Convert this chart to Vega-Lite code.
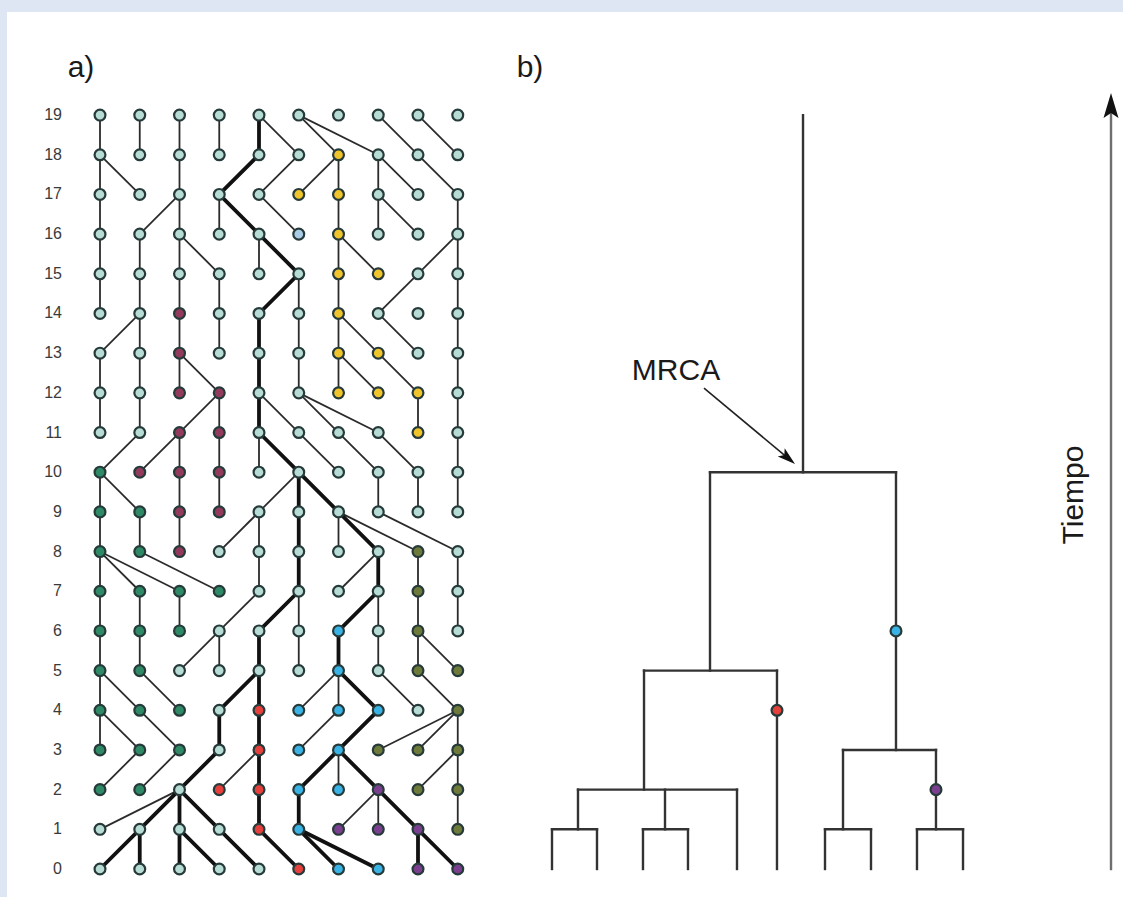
{
  "$schema": "https://vega.github.io/schema/vega-lite/v6.json",
  "width": 1116,
  "height": 885,
  "autosize": {"type": "none"},
  "padding": {"left": 7, "top": 12, "right": 0, "bottom": 0},
  "background": "#dfe6f3",
  "config": {"view": {"stroke": null, "fill": "white"}},
  "datasets": {
    "nodes": [
      {"g":19,"c":0,"k":"L","a":0},{"g":19,"c":1,"k":"L","a":0},{"g":19,"c":2,"k":"L","a":0},{"g":19,"c":3,"k":"L","a":0},{"g":19,"c":4,"k":"L","a":0},
      {"g":19,"c":5,"k":"L","a":0},{"g":19,"c":6,"k":"L","a":0},{"g":19,"c":7,"k":"L","a":0},{"g":19,"c":8,"k":"L","a":0},{"g":19,"c":9,"k":"L","a":0},

      {"g":18,"c":0,"k":"L","pg":19,"pc":0,"a":0},{"g":18,"c":1,"k":"L","pg":19,"pc":1,"a":0},{"g":18,"c":2,"k":"L","pg":19,"pc":2,"a":0},
      {"g":18,"c":3,"k":"L","pg":19,"pc":3,"a":0},{"g":18,"c":4,"k":"L","pg":19,"pc":4,"a":1},{"g":18,"c":5,"k":"L","pg":19,"pc":4,"a":0},
      {"g":18,"c":6,"k":"Y","pg":19,"pc":5,"a":0},{"g":18,"c":7,"k":"L","pg":19,"pc":5,"a":0},{"g":18,"c":8,"k":"L","pg":19,"pc":7,"a":0},
      {"g":18,"c":9,"k":"L","pg":19,"pc":8,"a":0},

      {"g":17,"c":0,"k":"L","pg":18,"pc":0,"a":0},{"g":17,"c":1,"k":"L","pg":18,"pc":0,"a":0},{"g":17,"c":2,"k":"L","pg":18,"pc":2,"a":0},
      {"g":17,"c":3,"k":"L","pg":18,"pc":4,"a":1},{"g":17,"c":4,"k":"L","pg":18,"pc":5,"a":0},{"g":17,"c":5,"k":"Y","pg":18,"pc":6,"a":0},
      {"g":17,"c":6,"k":"Y","pg":18,"pc":6,"a":0},{"g":17,"c":7,"k":"L","pg":18,"pc":7,"a":0},{"g":17,"c":8,"k":"L","pg":18,"pc":7,"a":0},
      {"g":17,"c":9,"k":"L","pg":18,"pc":8,"a":0},

      {"g":16,"c":0,"k":"L","pg":17,"pc":0,"a":0},{"g":16,"c":1,"k":"L","pg":17,"pc":2,"a":0},{"g":16,"c":2,"k":"L","pg":17,"pc":2,"a":0},
      {"g":16,"c":3,"k":"L","pg":17,"pc":3,"a":0},{"g":16,"c":4,"k":"L","pg":17,"pc":3,"a":1},{"g":16,"c":5,"k":"S","pg":17,"pc":4,"a":0},
      {"g":16,"c":6,"k":"Y","pg":17,"pc":6,"a":0},{"g":16,"c":7,"k":"L","pg":17,"pc":7,"a":0},{"g":16,"c":8,"k":"L","pg":17,"pc":7,"a":0},
      {"g":16,"c":9,"k":"L","pg":17,"pc":9,"a":0},

      {"g":15,"c":0,"k":"L","pg":16,"pc":0,"a":0},{"g":15,"c":1,"k":"L","pg":16,"pc":1,"a":0},{"g":15,"c":2,"k":"L","pg":16,"pc":2,"a":0},
      {"g":15,"c":3,"k":"L","pg":16,"pc":2,"a":0},{"g":15,"c":4,"k":"L","pg":16,"pc":4,"a":0},{"g":15,"c":5,"k":"L","pg":16,"pc":4,"a":1},
      {"g":15,"c":6,"k":"Y","pg":16,"pc":6,"a":0},{"g":15,"c":7,"k":"Y","pg":16,"pc":6,"a":0},{"g":15,"c":8,"k":"L","pg":16,"pc":9,"a":0},
      {"g":15,"c":9,"k":"L","pg":16,"pc":9,"a":0},

      {"g":14,"c":0,"k":"L","pg":15,"pc":0,"a":0},{"g":14,"c":1,"k":"L","pg":15,"pc":1,"a":0},{"g":14,"c":2,"k":"M","pg":15,"pc":2,"a":0},
      {"g":14,"c":3,"k":"L","pg":15,"pc":3,"a":0},{"g":14,"c":4,"k":"L","pg":15,"pc":5,"a":1},{"g":14,"c":5,"k":"L","pg":15,"pc":5,"a":0},
      {"g":14,"c":6,"k":"Y","pg":15,"pc":6,"a":0},{"g":14,"c":7,"k":"L","pg":15,"pc":8,"a":0},{"g":14,"c":8,"k":"L","a":0},
      {"g":14,"c":9,"k":"L","pg":15,"pc":9,"a":0},

      {"g":13,"c":0,"k":"L","pg":14,"pc":1,"a":0},{"g":13,"c":1,"k":"L","pg":14,"pc":1,"a":0},{"g":13,"c":2,"k":"M","pg":14,"pc":2,"a":0},
      {"g":13,"c":3,"k":"L","pg":14,"pc":3,"a":0},{"g":13,"c":4,"k":"L","pg":14,"pc":4,"a":1},{"g":13,"c":5,"k":"L","pg":14,"pc":5,"a":0},
      {"g":13,"c":6,"k":"Y","pg":14,"pc":6,"a":0},{"g":13,"c":7,"k":"Y","pg":14,"pc":6,"a":0},{"g":13,"c":8,"k":"L","pg":14,"pc":7,"a":0},
      {"g":13,"c":9,"k":"L","pg":14,"pc":9,"a":0},

      {"g":12,"c":0,"k":"L","pg":13,"pc":0,"a":0},{"g":12,"c":1,"k":"L","pg":13,"pc":1,"a":0},{"g":12,"c":2,"k":"M","pg":13,"pc":2,"a":0},
      {"g":12,"c":3,"k":"M","pg":13,"pc":2,"a":0},{"g":12,"c":4,"k":"L","pg":13,"pc":4,"a":1},{"g":12,"c":5,"k":"L","pg":13,"pc":5,"a":0},
      {"g":12,"c":6,"k":"Y","pg":13,"pc":6,"a":0},{"g":12,"c":7,"k":"Y","pg":13,"pc":6,"a":0},{"g":12,"c":8,"k":"Y","pg":13,"pc":7,"a":0},
      {"g":12,"c":9,"k":"L","pg":13,"pc":9,"a":0},

      {"g":11,"c":0,"k":"L","pg":12,"pc":0,"a":0},{"g":11,"c":1,"k":"L","pg":12,"pc":1,"a":0},{"g":11,"c":2,"k":"M","pg":12,"pc":3,"a":0},
      {"g":11,"c":3,"k":"M","pg":12,"pc":3,"a":0},{"g":11,"c":4,"k":"L","pg":12,"pc":4,"a":1},{"g":11,"c":5,"k":"L","pg":12,"pc":4,"a":0},
      {"g":11,"c":6,"k":"L","pg":12,"pc":5,"a":0},{"g":11,"c":7,"k":"L","pg":12,"pc":5,"a":0},{"g":11,"c":8,"k":"Y","pg":12,"pc":8,"a":0},
      {"g":11,"c":9,"k":"L","pg":12,"pc":9,"a":0},

      {"g":10,"c":0,"k":"G","pg":11,"pc":1,"a":0},{"g":10,"c":1,"k":"M","pg":11,"pc":2,"a":0},{"g":10,"c":2,"k":"M","pg":11,"pc":2,"a":0},
      {"g":10,"c":3,"k":"M","pg":11,"pc":3,"a":0},{"g":10,"c":4,"k":"L","pg":11,"pc":4,"a":0},{"g":10,"c":5,"k":"L","pg":11,"pc":4,"a":1},
      {"g":10,"c":6,"k":"L","pg":11,"pc":5,"a":0},{"g":10,"c":7,"k":"L","pg":11,"pc":6,"a":0},{"g":10,"c":8,"k":"L","pg":11,"pc":7,"a":0},
      {"g":10,"c":9,"k":"L","pg":11,"pc":9,"a":0},

      {"g":9,"c":0,"k":"G","pg":10,"pc":0,"a":0},{"g":9,"c":1,"k":"G","pg":10,"pc":0,"a":0},{"g":9,"c":2,"k":"M","pg":10,"pc":2,"a":0},
      {"g":9,"c":3,"k":"M","pg":10,"pc":3,"a":0},{"g":9,"c":4,"k":"L","pg":10,"pc":5,"a":0},{"g":9,"c":5,"k":"L","pg":10,"pc":5,"a":1},
      {"g":9,"c":6,"k":"L","pg":10,"pc":5,"a":1},{"g":9,"c":7,"k":"L","pg":10,"pc":7,"a":0},{"g":9,"c":8,"k":"L","pg":10,"pc":8,"a":0},
      {"g":9,"c":9,"k":"L","pg":10,"pc":9,"a":0},

      {"g":8,"c":0,"k":"G","pg":9,"pc":0,"a":0},{"g":8,"c":1,"k":"G","pg":9,"pc":1,"a":0},{"g":8,"c":2,"k":"M","pg":9,"pc":2,"a":0},
      {"g":8,"c":3,"k":"L","pg":9,"pc":4,"a":0},{"g":8,"c":4,"k":"L","pg":9,"pc":4,"a":0},{"g":8,"c":5,"k":"L","pg":9,"pc":5,"a":1},
      {"g":8,"c":6,"k":"L","pg":9,"pc":6,"a":0},{"g":8,"c":7,"k":"L","pg":9,"pc":6,"a":1},{"g":8,"c":8,"k":"O","pg":9,"pc":6,"a":0},
      {"g":8,"c":9,"k":"L","pg":9,"pc":7,"a":0},

      {"g":7,"c":0,"k":"G","pg":8,"pc":0,"a":0},{"g":7,"c":1,"k":"G","pg":8,"pc":0,"a":0},{"g":7,"c":2,"k":"G","pg":8,"pc":0,"a":0},
      {"g":7,"c":3,"k":"G","pg":8,"pc":1,"a":0},{"g":7,"c":4,"k":"L","pg":8,"pc":4,"a":0},{"g":7,"c":5,"k":"L","pg":8,"pc":5,"a":1},
      {"g":7,"c":6,"k":"L","pg":8,"pc":7,"a":0},{"g":7,"c":7,"k":"L","pg":8,"pc":7,"a":1},{"g":7,"c":8,"k":"O","pg":8,"pc":8,"a":0},
      {"g":7,"c":9,"k":"L","pg":8,"pc":9,"a":0},

      {"g":6,"c":0,"k":"G","pg":7,"pc":0,"a":0},{"g":6,"c":1,"k":"G","pg":7,"pc":1,"a":0},{"g":6,"c":2,"k":"G","pg":7,"pc":2,"a":0},
      {"g":6,"c":3,"k":"L","pg":7,"pc":4,"a":0},{"g":6,"c":4,"k":"L","pg":7,"pc":5,"a":1},{"g":6,"c":5,"k":"L","pg":7,"pc":5,"a":0},
      {"g":6,"c":6,"k":"B","pg":7,"pc":7,"a":1},{"g":6,"c":7,"k":"L","pg":7,"pc":7,"a":0},{"g":6,"c":8,"k":"O","pg":7,"pc":8,"a":0},
      {"g":6,"c":9,"k":"L","pg":7,"pc":9,"a":0},

      {"g":5,"c":0,"k":"G","pg":6,"pc":0,"a":0},{"g":5,"c":1,"k":"G","pg":6,"pc":1,"a":0},{"g":5,"c":2,"k":"L","pg":6,"pc":3,"a":0},
      {"g":5,"c":3,"k":"L","pg":6,"pc":3,"a":0},{"g":5,"c":4,"k":"L","pg":6,"pc":4,"a":1},{"g":5,"c":5,"k":"L","pg":6,"pc":5,"a":0},
      {"g":5,"c":6,"k":"B","pg":6,"pc":6,"a":1},{"g":5,"c":7,"k":"L","pg":6,"pc":7,"a":0},{"g":5,"c":8,"k":"O","pg":6,"pc":8,"a":0},
      {"g":5,"c":9,"k":"O","pg":6,"pc":8,"a":0},

      {"g":4,"c":0,"k":"G","pg":5,"pc":0,"a":0},{"g":4,"c":1,"k":"G","pg":5,"pc":0,"a":0},{"g":4,"c":2,"k":"G","pg":5,"pc":1,"a":0},
      {"g":4,"c":3,"k":"L","pg":5,"pc":4,"a":1},{"g":4,"c":4,"k":"R","pg":5,"pc":4,"a":1},{"g":4,"c":5,"k":"B","pg":5,"pc":6,"a":0},
      {"g":4,"c":6,"k":"B","pg":5,"pc":6,"a":0},{"g":4,"c":7,"k":"B","pg":5,"pc":6,"a":1},{"g":4,"c":8,"k":"L","pg":5,"pc":7,"a":0},
      {"g":4,"c":9,"k":"O","pg":5,"pc":8,"a":0},

      {"g":3,"c":0,"k":"G","pg":4,"pc":0,"a":0},{"g":3,"c":1,"k":"G","pg":4,"pc":0,"a":0},{"g":3,"c":2,"k":"G","pg":4,"pc":1,"a":0},
      {"g":3,"c":3,"k":"L","pg":4,"pc":3,"a":1},{"g":3,"c":4,"k":"R","pg":4,"pc":4,"a":1},{"g":3,"c":5,"k":"B","pg":4,"pc":6,"a":0},
      {"g":3,"c":6,"k":"B","pg":4,"pc":7,"a":1},{"g":3,"c":7,"k":"O","pg":4,"pc":9,"a":0},{"g":3,"c":8,"k":"O","pg":4,"pc":9,"a":0},
      {"g":3,"c":9,"k":"O","pg":4,"pc":9,"a":0},

      {"g":2,"c":0,"k":"G","pg":3,"pc":1,"a":0},{"g":2,"c":1,"k":"G","pg":3,"pc":2,"a":0},{"g":2,"c":2,"k":"L","pg":3,"pc":3,"a":1},
      {"g":2,"c":3,"k":"R","pg":3,"pc":4,"a":0},{"g":2,"c":4,"k":"R","pg":3,"pc":4,"a":1},{"g":2,"c":5,"k":"B","pg":3,"pc":6,"a":1},
      {"g":2,"c":6,"k":"B","pg":3,"pc":6,"a":0},{"g":2,"c":7,"k":"P","pg":3,"pc":6,"a":1},{"g":2,"c":8,"k":"O","pg":3,"pc":9,"a":0},
      {"g":2,"c":9,"k":"O","pg":3,"pc":9,"a":0},

      {"g":1,"c":0,"k":"L","pg":2,"pc":2,"a":0},{"g":1,"c":1,"k":"L","pg":2,"pc":2,"a":1},{"g":1,"c":2,"k":"L","pg":2,"pc":2,"a":1},
      {"g":1,"c":3,"k":"L","pg":2,"pc":2,"a":1},{"g":1,"c":4,"k":"R","pg":2,"pc":4,"a":1},{"g":1,"c":5,"k":"B","pg":2,"pc":5,"a":1},
      {"g":1,"c":6,"k":"P","pg":2,"pc":7,"a":0},{"g":1,"c":7,"k":"P","pg":2,"pc":7,"a":0},{"g":1,"c":8,"k":"P","pg":2,"pc":7,"a":1},
      {"g":1,"c":9,"k":"O","pg":2,"pc":9,"a":0},

      {"g":0,"c":0,"k":"L","pg":1,"pc":1,"a":1},{"g":0,"c":1,"k":"L","pg":1,"pc":1,"a":1},{"g":0,"c":2,"k":"L","pg":1,"pc":2,"a":1},
      {"g":0,"c":3,"k":"L","pg":1,"pc":2,"a":1},{"g":0,"c":4,"k":"L","pg":1,"pc":3,"a":1},{"g":0,"c":5,"k":"R","pg":1,"pc":4,"a":1},
      {"g":0,"c":6,"k":"B","pg":1,"pc":5,"a":1},{"g":0,"c":7,"k":"B","pg":1,"pc":5,"a":1},{"g":0,"c":8,"k":"P","pg":1,"pc":8,"a":1},
      {"g":0,"c":9,"k":"P","pg":1,"pc":8,"a":1}
    ],
    "tree": [
      {"x":11.371,"x2":11.371,"t":0,"t2":1},{"x":12.503,"x2":12.503,"t":0,"t2":1},
      {"x":13.660,"x2":13.660,"t":0,"t2":1},{"x":14.792,"x2":14.792,"t":0,"t2":1},
      {"x":16.025,"x2":16.025,"t":0,"t2":2},{"x":17.031,"x2":17.031,"t":0,"t2":5},
      {"x":18.239,"x2":18.239,"t":0,"t2":1},{"x":19.396,"x2":19.396,"t":0,"t2":1},
      {"x":20.553,"x2":20.553,"t":0,"t2":1},{"x":21.711,"x2":21.711,"t":0,"t2":1},
      {"x":12.025,"x2":12.025,"t":1,"t2":2},{"x":14.214,"x2":14.214,"t":1,"t2":2},
      {"x":13.686,"x2":13.686,"t":2,"t2":5},{"x":15.346,"x2":15.346,"t":5,"t2":10},
      {"x":18.692,"x2":18.692,"t":1,"t2":3},{"x":21.031,"x2":21.031,"t":1,"t2":3},
      {"x":20.025,"x2":20.025,"t":3,"t2":10},{"x":17.686,"x2":17.686,"t":10,"t2":19},
      {"x":11.371,"x2":12.503,"t":1,"t2":1},{"x":13.660,"x2":14.792,"t":1,"t2":1},
      {"x":18.239,"x2":19.396,"t":1,"t2":1},{"x":20.553,"x2":21.711,"t":1,"t2":1},
      {"x":12.025,"x2":16.025,"t":2,"t2":2},{"x":13.686,"x2":17.031,"t":5,"t2":5},
      {"x":18.692,"x2":21.031,"t":3,"t2":3},{"x":15.346,"x2":20.025,"t":10,"t2":10}
    ],
    "muts": [
      {"x":17.031,"t":4,"k":"R"},
      {"x":20.025,"t":6,"k":"B"},
      {"x":21.031,"t":2,"k":"P"}
    ]
  },
  "layer": [
    {
      "data": {"name": "nodes"},
      "transform": [{"filter": "isValid(datum.pc) && datum.a == 0"}],
      "mark": {"type": "rule", "color": "#2b2b2b", "strokeWidth": 1.8},
      "encoding": {
        "x": {"field": "c", "type": "quantitative", "scale": {"domain": [-2.3396, 25.7358], "nice": false, "zero": false}, "axis": null},
        "x2": {"field": "pc"},
        "y": {"field": "g", "type": "quantitative", "scale": {"domain": [-0.7056, 21.598], "nice": false, "zero": false}, "axis": null},
        "y2": {"field": "pg"}
      }
    },
    {
      "data": {"name": "nodes"},
      "transform": [{"filter": "isValid(datum.pc) && datum.a == 1"}],
      "mark": {"type": "rule", "color": "#111111", "strokeWidth": 3.8, "strokeCap": "round"},
      "encoding": {
        "x": {"field": "c", "type": "quantitative", "scale": {"domain": [-2.3396, 25.7358], "nice": false, "zero": false}, "axis": null},
        "x2": {"field": "pc"},
        "y": {"field": "g", "type": "quantitative", "scale": {"domain": [-0.7056, 21.598], "nice": false, "zero": false}, "axis": null},
        "y2": {"field": "pg"}
      }
    },
    {
      "data": {"name": "nodes"},
      "mark": {"type": "point", "shape": "circle", "filled": true, "size": 118, "stroke": "#263a3a", "strokeWidth": 2.2, "opacity": 1},
      "encoding": {
        "x": {"field": "c", "type": "quantitative", "scale": {"domain": [-2.3396, 25.7358], "nice": false, "zero": false}, "axis": null},
        "y": {"field": "g", "type": "quantitative", "scale": {"domain": [-0.7056, 21.598], "nice": false, "zero": false}, "axis": null},
        "color": {
          "field": "k", "type": "nominal", "legend": null,
          "scale": {
            "domain": ["L", "G", "M", "Y", "O", "B", "R", "P", "S"],
            "range": ["#b7dbd5", "#2e8a66", "#923a5c", "#f0c52c", "#6d7a3a", "#39b3e6", "#e5403b", "#7b3f8f", "#a9cde6"]
          }
        }
      }
    },
    {
      "data": {"name": "nodes"},
      "transform": [{"filter": "datum.c == 0"}],
      "mark": {"type": "text", "align": "right", "baseline": "middle", "font": "Liberation Sans", "fontSize": 16, "color": "#3a3a3a"},
      "encoding": {
        "x": {"datum": -0.956, "type": "quantitative", "scale": {"domain": [-2.3396, 25.7358], "nice": false, "zero": false}, "axis": null},
        "y": {"field": "g", "type": "quantitative", "scale": {"domain": [-0.7056, 21.598], "nice": false, "zero": false}, "axis": null},
        "text": {"field": "g", "type": "quantitative"}
      }
    },
    {
      "data": {"name": "tree"},
      "mark": {"type": "rule", "color": "#333333", "strokeWidth": 2.4, "strokeCap": "square"},
      "encoding": {
        "x": {"field": "x", "type": "quantitative", "scale": {"domain": [-2.3396, 25.7358], "nice": false, "zero": false}, "axis": null},
        "x2": {"field": "x2"},
        "y": {"field": "t", "type": "quantitative", "scale": {"domain": [-0.7056, 21.598], "nice": false, "zero": false}, "axis": null},
        "y2": {"field": "t2"}
      }
    },
    {
      "data": {"name": "muts"},
      "mark": {"type": "point", "shape": "circle", "filled": true, "size": 118, "stroke": "#263a3a", "strokeWidth": 2.2, "opacity": 1},
      "encoding": {
        "x": {"field": "x", "type": "quantitative", "scale": {"domain": [-2.3396, 25.7358], "nice": false, "zero": false}, "axis": null},
        "y": {"field": "t", "type": "quantitative", "scale": {"domain": [-0.7056, 21.598], "nice": false, "zero": false}, "axis": null},
        "color": {
          "field": "k", "type": "nominal", "legend": null,
          "scale": {
            "domain": ["L", "G", "M", "Y", "O", "B", "R", "P", "S"],
            "range": ["#b7dbd5", "#2e8a66", "#923a5c", "#f0c52c", "#6d7a3a", "#39b3e6", "#e5403b", "#7b3f8f", "#a9cde6"]
          }
        }
      }
    },
    {
      "data": {"values": [{}]},
      "mark": {"type": "text", "text": "a)", "align": "center", "baseline": "middle", "font": "Liberation Sans", "fontSize": 30, "color": "#1a1a1a"},
      "encoding": {
        "x": {"datum": -0.478, "type": "quantitative", "scale": {"domain": [-2.3396, 25.7358], "nice": false, "zero": false}, "axis": null},
        "y": {"datum": 20.19, "type": "quantitative", "scale": {"domain": [-0.7056, 21.598], "nice": false, "zero": false}, "axis": null}
      }
    },
    {
      "data": {"values": [{}]},
      "mark": {"type": "text", "text": "b)", "align": "center", "baseline": "middle", "font": "Liberation Sans", "fontSize": 30, "color": "#1a1a1a"},
      "encoding": {
        "x": {"datum": 10.818, "type": "quantitative", "scale": {"domain": [-2.3396, 25.7358], "nice": false, "zero": false}, "axis": null},
        "y": {"datum": 20.19, "type": "quantitative", "scale": {"domain": [-0.7056, 21.598], "nice": false, "zero": false}, "axis": null}
      }
    },
    {
      "data": {"values": [{}]},
      "mark": {"type": "text", "text": "MRCA", "align": "center", "baseline": "middle", "font": "Liberation Sans", "fontSize": 30, "color": "#1a1a1a"},
      "encoding": {
        "x": {"datum": 14.491, "type": "quantitative", "scale": {"domain": [-2.3396, 25.7358], "nice": false, "zero": false}, "axis": null},
        "y": {"datum": 12.55, "type": "quantitative", "scale": {"domain": [-0.7056, 21.598], "nice": false, "zero": false}, "axis": null}
      }
    },
    {
      "data": {"values": [{}]},
      "mark": {"type": "text", "text": "Tiempo", "angle": 270, "align": "center", "baseline": "middle", "font": "Liberation Sans", "fontSize": 30, "color": "#1a1a1a"},
      "encoding": {
        "x": {"datum": 24.503, "type": "quantitative", "scale": {"domain": [-2.3396, 25.7358], "nice": false, "zero": false}, "axis": null},
        "y": {"datum": 9.425, "type": "quantitative", "scale": {"domain": [-0.7056, 21.598], "nice": false, "zero": false}, "axis": null}
      }
    },
    {
      "data": {"values": [{}]},
      "mark": {"type": "rule", "color": "#222222", "strokeWidth": 1.6},
      "encoding": {
        "x": {"datum": 15.195, "type": "quantitative", "scale": {"domain": [-2.3396, 25.7358], "nice": false, "zero": false}, "axis": null},
        "x2": {"datum": 17.30},
        "y": {"datum": 12.12, "type": "quantitative", "scale": {"domain": [-0.7056, 21.598], "nice": false, "zero": false}, "axis": null},
        "y2": {"datum": 10.36}
      }
    },
    {
      "data": {"values": [{}]},
      "mark": {"type": "point", "shape": "M0,-1L0.6,1L0,0.55L-0.6,1Z", "filled": true, "size": 324, "color": "#111111", "opacity": 1, "angle": 130},
      "encoding": {
        "x": {"datum": 17.311, "type": "quantitative", "scale": {"domain": [-2.3396, 25.7358], "nice": false, "zero": false}, "axis": null},
        "y": {"datum": 10.353, "type": "quantitative", "scale": {"domain": [-0.7056, 21.598], "nice": false, "zero": false}, "axis": null}
      }
    },
    {
      "data": {"values": [{}]},
      "mark": {"type": "rule", "color": "#6f6f6f", "strokeWidth": 2.4},
      "encoding": {
        "x": {"datum": 25.434, "type": "quantitative", "scale": {"domain": [-2.3396, 25.7358], "nice": false, "zero": false}, "axis": null},
        "y": {"datum": -0.03, "type": "quantitative", "scale": {"domain": [-0.7056, 21.598], "nice": false, "zero": false}, "axis": null},
        "y2": {"datum": 19.1}
      }
    },
    {
      "data": {"values": [{}]},
      "mark": {"type": "point", "shape": "M0,-1L0.6,1L0,0.6L-0.6,1Z", "filled": true, "size": 625, "color": "#111111", "opacity": 1},
      "encoding": {
        "x": {"datum": 25.434, "type": "quantitative", "scale": {"domain": [-2.3396, 25.7358], "nice": false, "zero": false}, "axis": null},
        "y": {"datum": 19.241, "type": "quantitative", "scale": {"domain": [-0.7056, 21.598], "nice": false, "zero": false}, "axis": null}
      }
    }
  ]
}
